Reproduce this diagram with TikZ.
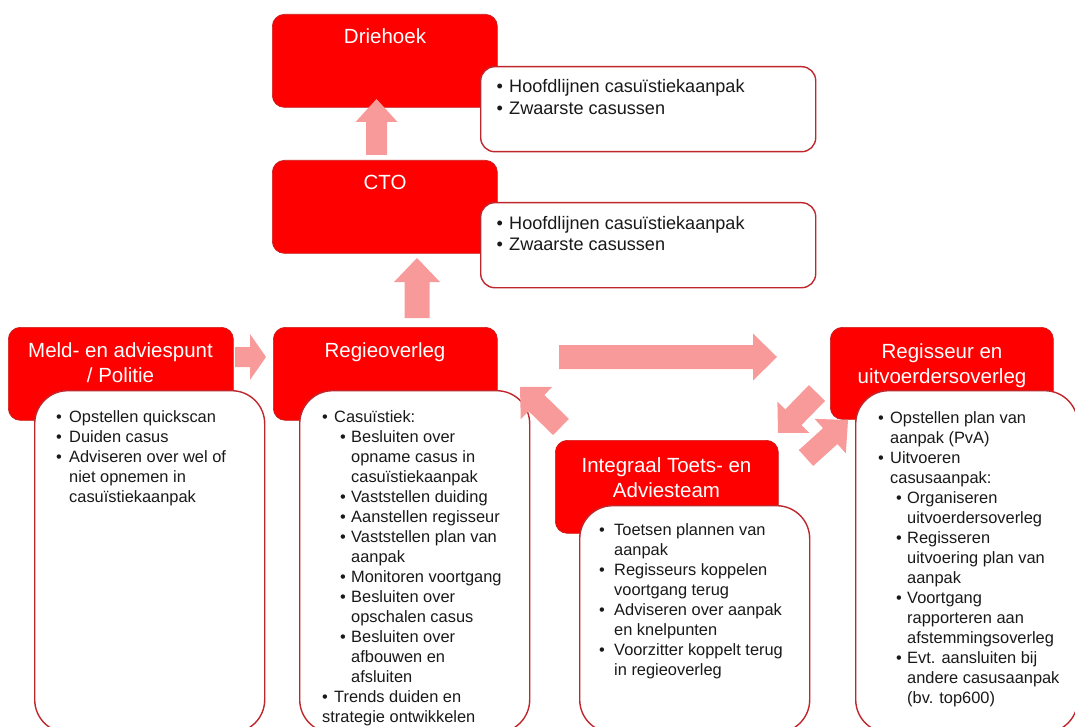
\documentclass[tikz,border=0pt]{standalone}
\usepackage{fontspec}
\setmainfont{Liberation Sans}
\usetikzlibrary{calc}
\definecolor{boxred}{RGB}{255,0,0}
\definecolor{boxedge}{RGB}{200,30,30}
\definecolor{edgered}{RGB}{192,39,45}
\definecolor{arrowpink}{RGB}{248,154,154}
\definecolor{bodytext}{RGB}{25,25,25}
\newcommand\bl[1][12pt]{\makebox[#1][l]{•}\ignorespaces}
\newcommand\ind[1]{\hspace*{#1}}
\newcommand\blockarrow[5]{%
  \path ($(#2)!#5!(#1)$) coordinate (#2-base);
  \fill[arrowpink] ($(#1)!#3!90:(#2)$) -- ($(#2-base)!#3!90:(#2)$) -- ($(#2-base)!#4!90:(#2)$) -- (#2)
     -- ($(#2-base)!#4!-90:(#2)$) -- ($(#2-base)!#3!-90:(#2)$) -- ($(#1)!#3!-90:(#2)$) -- cycle;
}
\begin{document}
\begin{tikzpicture}[x=1pt,y=-1pt,
  redbox/.style={fill=boxred, draw=boxedge, line width=0.7pt, rounded corners=12pt, anchor=north west, inner sep=0pt},
  whitebox/.style={fill=white, draw=edgered, line width=1.4pt, rounded corners=#1, anchor=north west, inner sep=0pt},
  title/.style={text=white, font=\fontsize{20.5}{25}\selectfont, align=center, inner sep=0pt, anchor=base},
  body/.style={text=bodytext, font=\fontsize{16.4}{20}\selectfont, align=left, inner sep=0pt, anchor=base west},
  topbody/.style={text=bodytext, font=\fontsize{18.1}{21.7}\selectfont, align=left, inner sep=0pt, anchor=base west}]
\useasboundingbox (0,0) rectangle (1075,727);
\clip (0,0) rectangle (1075,727);

% top boxes (multi-line nodes: base anchor = baseline of last line)
\node[redbox, minimum width=225pt, minimum height=93pt] (drie) at (272,14) {};
\node[whitebox=14pt, minimum width=335pt, minimum height=85pt] (driew) at (480,66) {};
\node[title] (tdrie) at (385,44) {Driehoek};
\node[topbody] (drietxt) at (496.5,114.7) {\bl[12.5pt] Hoofdlijnen casuïstiekaanpak\\\bl[12.5pt] Zwaarste casussen};

\node[redbox, minimum width=225pt, minimum height=93pt] (cto) at (272,160) {};
\node[whitebox=14pt, minimum width=335pt, minimum height=85pt] (ctow) at (480,202) {};
\node[title] (tcto) at (385,190) {CTO};
\node[topbody] (ctotxt) at (496.5,250.7) {\bl[12.5pt] Hoofdlijnen casuïstiekaanpak\\\bl[12.5pt] Zwaarste casussen};

% lower red boxes
\node[redbox, minimum width=225pt, minimum height=93pt] (meld) at (8,327) {};
\node[redbox, minimum width=224pt, minimum height=93pt] (regie) at (273,327) {};
\node[redbox, minimum width=223pt, minimum height=93pt] (ita) at (555,440) {};
\node[redbox, minimum width=223pt, minimum height=92pt] (regis) at (830,327) {};

% lower white boxes
\node[whitebox=33pt, minimum width=230pt, minimum height=342pt] (meldw) at (34,390) {};
\node[whitebox=33pt, minimum width=230pt, minimum height=342pt] (regiew) at (299,390) {};
\node[whitebox=33pt, minimum width=230pt, minimum height=227pt] (itaw) at (579,505) {};
\node[whitebox=33pt, minimum width=222pt, minimum height=342pt] (regisw) at (855,390) {};

% titles
\node[title] (tmeld) at (120.5,382) {Meld- en adviespunt\\/ Politie};
\node[title] (tregie) at (385,357) {Regieoverleg};
\node[title] (tita) at (666.5,497) {Integraal Toets- en\\Adviesteam};
\node[title] (tregis) at (942,383) {Regisseur en\\uitvoerdersoverleg};

% body texts
\node[body] (meldtxt) at (56,502) {\bl[13pt] Opstellen quickscan\\
\bl[13pt] Duiden casus\\
\bl[13pt] Adviseren over wel of\\
\ind{13pt}niet opnemen in\\
\ind{13pt}casuïstiekaanpak};

\node[body] (regietxt) at (322,722) {\bl Casuïstiek:\\
\ind{18pt}\bl[11pt] Besluiten over\\
\ind{29pt}opname casus in\\
\ind{29pt}casuïstiekaanpak\\
\ind{18pt}\bl[11pt] Vaststellen duiding\\
\ind{18pt}\bl[11pt] Aanstellen regisseur\\
\ind{18pt}\bl[11pt] Vaststellen plan van\\
\ind{29pt}aanpak\\
\ind{18pt}\bl[11pt] Monitoren voortgang\\
\ind{18pt}\bl[11pt] Besluiten over\\
\ind{29pt}opschalen casus\\
\ind{18pt}\bl[11pt] Besluiten over\\
\ind{29pt}afbouwen en\\
\ind{29pt}afsluiten\\
\bl Trends duiden en\\
strategie ontwikkelen};

\node[body] (itatxt) at (599,675) {\bl[15pt] Toetsen plannen van\\
\ind{15pt}aanpak\\
\bl[15pt] Regisseurs koppelen\\
\ind{15pt}voortgang terug\\
\bl[15pt] Adviseren over aanpak\\
\ind{15pt}en knelpunten\\
\bl[15pt] Voorzitter koppelt terug\\
\ind{15pt}in regieoverleg};

\node[body] (registxt) at (878,703) {\bl Opstellen plan van\\
\ind{12pt}aanpak (PvA)\\
\bl Uitvoeren\\
\ind{12pt}casusaanpak:\\
\ind{18pt}\bl[11pt] Organiseren\\
\ind{29pt}uitvoerdersoverleg\\
\ind{18pt}\bl[11pt] Regisseren\\
\ind{29pt}uitvoering plan van\\
\ind{29pt}aanpak\\
\ind{18pt}\bl[11pt] Voortgang\\
\ind{29pt}rapporteren aan\\
\ind{29pt}afstemmingsoverleg\\
\ind{18pt}\bl[11pt] Evt. aansluiten bij\\
\ind{29pt}andere casusaanpak\\
\ind{29pt}(bv. top600)};

% block arrows
\coordinate (a1t) at (376.5,155); \coordinate (a1h) at (376.5,99);
\coordinate (a2t) at (417,318);   \coordinate (a2h) at (417,258);
\coordinate (a3t) at (235,357);   \coordinate (a3h) at (266,357);
\coordinate (a4t) at (559,357);   \coordinate (a4h) at (777,357);
\coordinate (a5t) at (561,427);   \coordinate (a5h) at (520,387);
\coordinate (a6t) at (817,393);   \coordinate (a6h) at (778,433);
\coordinate (a7t) at (806,458);   \coordinate (a7h) at (848,420);
\blockarrow{a1t}{a1h}{10.5pt}{21pt}{23pt}
\blockarrow{a2t}{a2h}{12.5pt}{23pt}{24pt}
\blockarrow{a3t}{a3h}{10pt}{23pt}{16pt}
\blockarrow{a4t}{a4h}{12pt}{23.5pt}{24pt}
\blockarrow{a5t}{a5h}{11.3pt}{22.5pt}{23pt}
\blockarrow{a6t}{a6h}{11.3pt}{22.3pt}{22pt}
\blockarrow{a7t}{a7h}{10.7pt}{23.3pt}{24pt}
\end{tikzpicture}
\end{document}
